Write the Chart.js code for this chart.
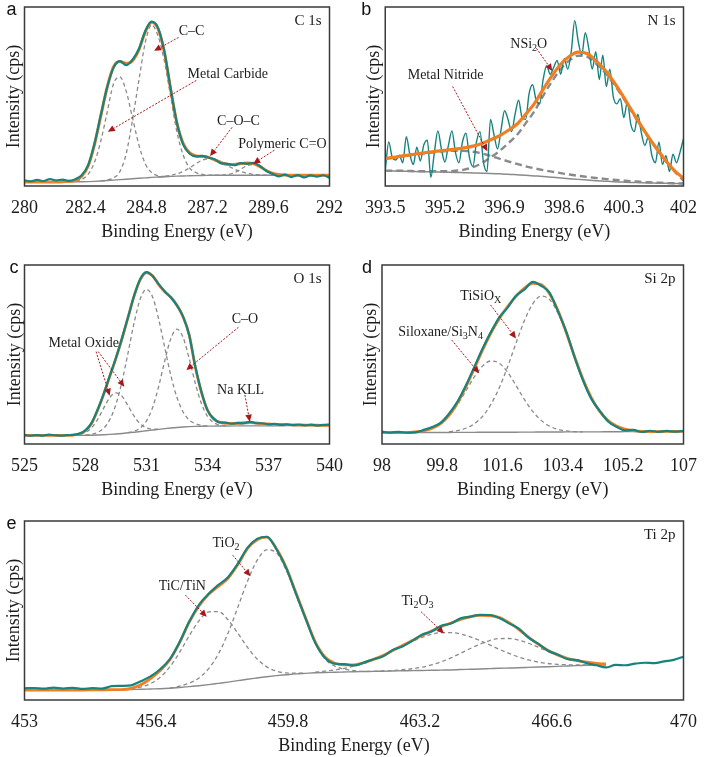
<!DOCTYPE html>
<html>
<head>
<meta charset="utf-8">
<title>XPS high-resolution spectra</title>
<script src="https://cdn.jsdelivr.net/npm/chart.js@4.4.1/dist/chart.umd.min.js"></script>
<style>
  html, body { margin: 0; padding: 0; background: #fff; }
  #fig { position: relative; width: 708px; height: 757px; overflow: hidden; }
  #fig canvas { position: absolute; }
</style>
</head>
<body>
<div id="fig">
  <canvas id="panelA" width="354" height="244" style="left:0px;top:0px"></canvas>
  <canvas id="panelB" width="354" height="244" style="left:354px;top:0px"></canvas>
  <canvas id="panelC" width="354" height="244" style="left:0px;top:258px"></canvas>
  <canvas id="panelD" width="354" height="244" style="left:354px;top:258px"></canvas>
  <canvas id="panelE" width="708" height="244" style="left:0px;top:514px"></canvas>
</div>
<script>
// ---- C 1s ----
var c1sTicks = [280, 282.4, 284.8, 287.2, 289.6, 292];
var c1sEnergy = [280,280.25,280.5,280.75,281,281.25,281.5,281.75,282,282.25,282.5,282.75,283,283.25,283.5,283.75,284,284.25,284.5,284.75,285,285.25,285.5,285.75,286,286.25,286.5,286.75,287,287.25,287.5,287.75,288,288.25,288.5,288.75,289,289.25,289.5,289.75,290,290.25,290.5,290.75,291,291.25,291.5,291.75,292];
var c1sMeasured = [3.2,2.6,3.4,2.8,3.9,3.1,3.6,2.9,3.8,6.0,11.5,23.5,39.5,55,66,69.8,67.5,70.5,76.5,86.5,91.8,88.5,75.5,54.5,35,23,18,16.5,16.8,15.8,14.8,12.6,12.4,11.6,12.8,12.4,12.9,11.3,8.5,6.9,5.4,6.3,5.0,6.1,4.8,5.9,5.2,6.0,4.6];
var c1sEnvelope = [2.3,2.3,2.3,2.3,2.3,2.3,2.4,2.6,3.0,5.5,11,23,39,55,66.5,69.5,68.5,70,76,86,91.5,88,75,54,35,23.5,18.5,16.8,16.5,16,14.5,13,12,12,12.5,12.8,12.5,11,8.8,7.2,6.4,6.1,6,6,6,6,6,6,6];
var c1sBackground = [2.3,2.3,2.3,2.3,2.3,2.3,2.3,2.3,2.3,2.35,2.45,2.6,2.8,3.05,3.3,3.55,3.8,4.05,4.3,4.55,4.8,5.0,5.2,5.35,5.5,5.6,5.7,5.8,5.9,5.95,6,6,6,6,6,6,6,6,6,6,6,6,6,6,6,6,6,6,6];
var c1sCarbide = [null,null,null,null,null,null,null,2.35,2.6,3.6,6.5,13,25,41,57,61,53,38,23,12.5,7.5,5.8,5.3,5.4,null,null,null,null,null,null,null,null,null,null,null,null,null,null,null,null,null,null,null,null,null,null,null,null,null];
var c1sCC = [null,null,null,null,null,null,null,null,null,null,null,null,2.9,3.4,4.5,8,18,37,59,80,90,84,70,50,30,17,10,7.5,6.5,6.1,6.0,null,null,null,null,null,null,null,null,null,null,null,null,null,null,null,null,null,null];
var c1sCOC = [null,null,null,null,null,null,null,null,null,null,null,null,null,null,null,null,null,null,null,null,null,5.05,5.4,5.9,6.8,8.2,10.2,12.5,14.5,15.3,14.8,13.3,11.3,9.5,8.1,7.1,6.5,6.2,6.05,6.0,null,null,null,null,null,null,null,null,null];
var c1sPolymeric = [null,null,null,null,null,null,null,null,null,null,null,null,null,null,null,null,null,null,null,null,null,null,null,null,null,null,null,null,null,null,6.0,6.1,6.4,7.4,9.3,11.3,12.0,10.8,8.7,7.1,6.3,6.05,6.0,null,null,null,null,null,null];

// ---- N 1s ----
var n1sTicks = [393.5, 395.2, 396.9, 398.6, 400.3, 402];
var n1sEnergy = [393.5,393.6,393.7,393.8,393.9,394,394.1,394.2,394.3,394.4,394.5,394.6,394.7,394.8,394.9,395,395.1,395.2,395.3,395.4,395.5,395.6,395.7,395.8,395.9,396,396.1,396.2,396.3,396.4,396.5,396.6,396.7,396.8,396.9,397,397.1,397.2,397.3,397.4,397.5,397.6,397.7,397.8,397.9,398,398.1,398.2,398.3,398.4,398.5,398.6,398.7,398.8,398.9,399,399.1,399.2,399.3,399.4,399.5,399.6,399.7,399.8,399.9,400,400.1,400.2,400.3,400.4,400.5,400.6,400.7,400.8,400.9,401,401.1,401.2,401.3,401.4,401.5,401.6,401.7,401.8,401.9,402];
var n1sMeasured = [8.5,24.6,15.9,14.5,17.2,13,27.5,17.8,12,21.7,14,23,25.6,4.8,18.8,30.8,20.7,13.4,22.7,30.8,18.8,13,24.6,29.5,15.9,11,24.6,30.4,13,8.1,37.2,28.5,20.7,31.4,42,37.2,30.4,40.1,47.9,38.2,37.2,51.7,56.6,47.9,45.9,59.5,67.2,62.4,66.3,70.2,62.4,71.1,65.3,75,92.4,80.8,73.1,85.7,76.9,65.3,75,59.5,73.1,55.6,65.3,49.8,45.9,48.8,38.2,46.9,34.3,30.4,40.1,29.5,22.7,27.5,16.9,13,24.6,12,16.9,8.1,17.8,13,18.8,26.5];
var n1sFitEnergy = [393.5,393.75,394,394.25,394.5,394.75,395,395.25,395.5,395.75,396,396.25,396.5,396.75,397,397.25,397.5,397.75,398,398.25,398.5,398.75,399,399.25,399.5,399.75,400,400.25,400.5,400.75,401,401.25,401.5,401.75,402];
var n1sEnvelope = [15.3,16.0,16.8,17.5,18.3,18.9,19.5,20.0,20.6,21.3,22.3,23.8,25.8,28.0,31.0,34.5,40,46,54,61.5,68,72.5,74.8,74,70,65,58.5,51,43,35,27.5,20.5,14,8.5,4.3];
var n1sBackground = [8.5,8.4,8.3,8.15,8.0,7.9,7.8,7.7,7.6,7.45,7.3,7.15,7.0,6.8,6.6,6.3,6.0,5.65,5.3,4.9,4.5,4.1,3.7,3.35,3.0,2.7,2.4,2.2,2.0,1.85,1.7,1.6,1.5,1.45,1.4];
var n1sNitride = [15.2,15.9,16.6,17.3,18.0,18.6,19.1,19.5,19.7,19.6,19.1,18.2,16.8,15.3,13.8,12.4,11.0,9.9,8.9,8.0,7.2,6.4,5.7,5.1,4.5,4.0,3.5,3.1,2.7,2.4,2.1,1.9,1.7,1.5,1.4];
var n1sNSi2O = [8.6,8.5,8.5,8.35,8.3,8.2,8.2,8.2,8.5,9.15,10.5,12.75,16.0,19.5,23.8,28.4,35,41.75,50.4,58.4,65.3,70.2,72.8,72.25,68.5,63.7,57.4,50.1,42.3,34.45,27.1,20.2,13.8,8.0,3.0];

// ---- O 1s ----
var o1sTicks = [525, 528, 531, 534, 537, 540];
var o1sEnergy = [525,525.3,525.6,525.9,526.2,526.5,526.8,527.1,527.4,527.7,528,528.3,528.6,528.9,529.2,529.5,529.8,530.1,530.4,530.7,531,531.3,531.6,531.9,532.2,532.5,532.8,533.1,533.4,533.7,534,534.3,534.6,534.9,535.2,535.5,535.8,536.1,536.4,536.7,537,537.3,537.6,537.9,538.2,538.5,538.8,539.1,539.4,539.7,540];
var o1sMeasured = [5.1,4.6,5.0,4.7,5.2,4.9,4.6,5.0,5.1,5.8,7.7,11.8,19.3,28.2,38.3,48.2,59.3,71.2,83.2,92.3,96.0,93.8,89.3,85.2,81.8,77.3,71.2,60.8,43.3,29.2,18.8,14.3,12.0,11.9,11.3,11.8,11.6,12.4,11.6,11.6,11.0,11.3,10.7,11.0,10.5,10.9,10.4,10.8,10.3,10.7,10.9];
var o1sEnvelope = [4.8,4.8,4.8,4.8,4.8,4.8,4.8,4.8,5.0,5.6,7.5,11.5,19,28,38,48,59,71,83,92,95.8,94,89,85,82,77.5,71,61,43,29,19,14,12.2,11.6,11.5,11.6,11.9,12.2,11.8,11.4,11.2,11.0,10.9,10.8,10.7,10.6,10.6,10.5,10.5,10.4,10.4];
var o1sBackground = [4.8,4.8,4.8,4.8,4.8,4.8,4.8,4.8,4.8,4.8,4.85,4.9,5.0,5.15,5.35,5.6,5.9,6.25,6.6,7.0,7.4,7.8,8.2,8.6,8.95,9.25,9.5,9.7,9.85,9.95,10.0,10.0,10.05,10.05,10.1,10.1,10.1,10.15,10.15,10.15,10.2,10.2,10.2,10.25,10.25,10.25,10.3,10.3,10.3,10.3,10.3];
var o1sOxide = [null,null,null,null,null,null,null,null,4.9,5.3,6.45,9.1,13.8,20.15,26.05,28.6,26.6,21.25,15.4,11.2,9.0,8.3,8.25,null,null,null,null,null,null,null,null,null,null,null,null,null,null,null,null,null,null,null,null,null,null,null,null,null,null,null,null];
var o1sMain = [null,null,null,null,null,null,null,null,null,null,4.9,5.4,6.5,8.85,13.75,22.3,35.1,51.35,68.1,81.3,86.4,82.1,69.7,53.7,38.15,25.95,17.9,13.4,11.35,10.45,10.05,null,null,null,null,null,null,null,null,null,null,null,null,null,null,null,null,null,null,null,null];
var o1sCO = [null,null,null,null,null,null,null,null,null,null,null,null,null,null,null,null,null,6.3,7.2,9.0,12.9,20.4,32.2,46.6,59,64.15,59.5,47.7,33.9,22.6,15.5,12.0,10.6,10.15,null,null,null,null,null,null,null,null,null,null,null,null,null,null,null,null,null];
var o1sNaKLL = [null,null,null,null,null,null,null,null,null,null,null,null,null,null,null,null,null,null,null,null,null,null,null,null,null,null,null,null,null,null,null,null,null,10.1,10.2,10.6,11.2,11.5,11.2,10.7,10.3,10.2,null,null,null,null,null,null,null,null,null];

// ---- Si 2p ----
var si2pTicks = [98, 99.8, 101.6, 103.4, 105.2, 107];
var si2pEnergy = [98,98.25,98.5,98.75,99,99.25,99.5,99.75,100,100.25,100.5,100.75,101,101.25,101.5,101.75,102,102.25,102.5,102.75,103,103.25,103.5,103.75,104,104.25,104.5,104.75,105,105.25,105.5,105.75,106,106.25,106.5,106.75,107];
var si2pMeasured = [6.9,6.4,6.8,6.3,6.5,7.9,9.5,11.8,16.9,23.5,32.5,42.8,53.2,62.5,70.8,76.2,82.8,86.2,90.6,88.4,84.6,74.2,62.8,48.4,35.6,25.2,18.5,12.6,9.6,7.6,7.9,6.7,7.4,6.8,7.3,6.9,7.4];
var si2pEnvelope = [6.3,6.3,6.35,6.4,6.8,7.4,8.8,11.4,16.0,22.9,31.8,42,52.4,62,70,76.8,82.5,87.1,89.7,89.1,84,74.7,62.3,48.8,36.1,25.8,18.2,13.1,10.0,8.3,7.5,7.1,6.95,6.95,7.0,7.0,7.0];
var si2pBackground = [6.3,6.3,6.35,6.35,6.4,6.4,6.4,6.45,6.45,6.5,6.5,6.5,6.55,6.55,6.6,6.6,6.6,6.65,6.65,6.7,6.7,6.7,6.75,6.75,6.8,6.8,6.8,6.85,6.85,6.9,6.9,6.9,6.95,6.95,7.0,7.0,7.0];
var si2pSiloxane = [null,null,null,6.4,6.8,7.4,8.8,11.4,15.6,21.9,29.5,37.3,43.5,46.4,45.1,40.1,32.7,24.9,18.2,13.2,10.0,8.2,7.3,6.9,6.8,null,null,null,null,null,null,null,null,null,null,null,null];
var si2pTiSiOx = [null,null,null,null,null,null,null,null,6.85,7.5,8.8,11.2,15.4,22.1,31.4,43.2,56.3,68.9,78.3,82.6,80.7,73.2,61.7,48.6,36.1,25.8,18.2,13.1,10.0,8.3,7.5,7.1,6.95,null,null,null,null];

// ---- Ti 2p ----
var ti2pTicks = [453, 456.4, 459.8, 463.2, 466.6, 470];
var ti2pEnergy = [453,453.25,453.5,453.75,454,454.25,454.5,454.75,455,455.25,455.5,455.75,456,456.25,456.5,456.75,457,457.25,457.5,457.75,458,458.25,458.5,458.75,459,459.25,459.5,459.75,460,460.25,460.5,460.75,461,461.25,461.5,461.75,462,462.25,462.5,462.75,463,463.25,463.5,463.75,464,464.25,464.5,464.75,465,465.25,465.5,465.75,466,466.25,466.5,466.75,467,467.25,467.5,467.75,468,468.25,468.5,468.75,469,469.25,469.5,469.75,470];
var ti2pMeasured = [6.5,6.7,6.3,6.9,6.4,6.8,6.2,6.6,6.4,7.7,7.9,8.2,10.5,13.2,17.2,22.8,32.3,43.8,53.2,59.3,64.3,68.6,76,85,90,91.2,84.2,73.8,59.6,45.6,32.0,23.6,20.3,20.0,19.3,20.9,22.8,24.4,28.0,29.9,33.0,36.5,38.2,41.5,42.7,45.6,46.6,47.6,47.5,45.8,42.8,39.9,34.8,31.5,27.5,25.4,22.9,22.3,20.6,19.4,18.2,19.6,19.4,20.3,20.8,20.6,21.6,22.4,24.2];
var ti2pEnvelope = [5.6,5.6,5.6,5.6,5.6,5.6,5.6,5.65,5.7,5.75,5.8,6.5,8.5,12.0,16.5,22.5,32,43.5,52.5,59,63.5,68,75.5,84.5,89.5,91,84.5,74,60,46,32.5,24,20.5,19.6,19.6,20.8,22.6,24.8,27.6,30.4,33.2,36.0,38.6,41.0,43.0,45.0,46.5,47.3,47.2,46.0,43.2,39.5,35.2,31.2,27.8,25.2,23.3,22.0,21.1,20.5,20.1,null,null,null,null,null,null,null,null];
var ti2pBackground = [5.6,5.6,5.6,5.6,5.6,5.6,5.6,5.65,5.7,5.75,5.8,5.9,6.0,6.15,6.3,6.6,7.0,7.5,8.0,8.6,9.3,10.0,10.8,11.6,12.3,13.0,13.6,14.1,14.6,14.9,15.2,15.4,15.5,15.65,15.8,15.9,16.0,16.1,16.2,16.3,16.4,16.5,16.6,16.7,16.8,17.0,17.15,17.3,17.5,17.7,17.85,18.0,18.2,18.4,18.6,18.8,19.0,19.2,19.4,19.5,19.6,null,null,null,null,null,null,null,null];
var ti2pTiC = [null,null,null,null,null,null,null,null,null,null,null,6.35,7.25,9.15,12.7,18.5,26.6,35.9,44.2,49.2,49.4,44.8,37.4,29.5,22.9,18.5,16.1,15.1,15.0,14.9,null,null,null,null,null,null,null,null,null,null,null,null,null,null,null,null,null,null,null,null,null,null,null,null,null,null,null,null,null,null,null,null,null,null,null,null,null,null,null];
var ti2pTiO2 = [null,null,null,null,null,null,null,null,null,null,null,null,null,null,null,6.6,7.7,9.4,12.3,17.5,25.7,37.3,51.6,66.2,78.0,83.9,82.2,72.5,59,45,32,23.0,19.0,17.2,16.4,16.0,16.0,null,null,null,null,null,null,null,null,null,null,null,null,null,null,null,null,null,null,null,null,null,null,null,null,null,null,null,null,null,null,null,null];
var ti2pTi2O3 = [null,null,null,null,null,null,null,null,null,null,null,null,null,null,null,null,null,null,null,null,null,null,null,null,null,null,null,null,null,null,15.5,16.15,16.75,17.65,18.9,20.4,22.4,24.7,27.4,30.1,32.7,35.0,36.7,37.6,37.6,36.9,35.25,33.2,30.8,28.3,26.05,24.0,22.4,21.2,20.4,19.9,19.7,19.6,19.6,19.6,19.65,null,null,null,null,null,null,null,null];
var ti2pSecond = [null,null,null,null,null,null,null,null,null,null,null,null,null,null,null,null,null,null,null,null,null,null,null,null,null,null,null,null,null,null,null,null,null,null,null,null,16.0,16.2,16.5,16.9,17.45,18.35,19.6,21.3,23.5,26.1,28.75,31.2,33.2,34.3,34.35,33.4,31.7,29.5,27.2,25.1,23.3,21.9,21.05,20.4,20.1,null,null,null,null,null,null,null,null];

// ---- drawing ----
var SERIF = '"Liberation Serif", "Times New Roman", serif';
var SANS = '"Liberation Sans", Arial, sans-serif';
var TEAL = '#16837f', ORANGE = '#f07e22', GREY = '#8a8a8a', RED = '#a8171b', INK = '#1c1c1c';

function pts(xs, ys) {
  return xs.map(function (x, i) { return { x: x, y: ys[i] }; });
}
function line(xs, ys, color, width, dash) {
  return { data: pts(xs, ys), borderColor: color, borderWidth: width, borderDash: dash || [],
    pointRadius: 0, fill: false, cubicInterpolationMode: 'monotone' };
}

// text with "_x" meaning subscript x
function richText(ctx, str, cx, cy, size) {
  var parts = [];
  for (var i = 0; i < str.length; i++) {
    if (str[i] === '_') { parts.push({ t: str[i + 1], sub: true }); i++; }
    else if (parts.length && !parts[parts.length - 1].sub) parts[parts.length - 1].t += str[i];
    else parts.push({ t: str[i], sub: false });
  }
  var w = 0;
  parts.forEach(function (p) {
    ctx.font = (p.sub ? size * 0.72 : size) + 'px ' + SERIF;
    p.w = ctx.measureText(p.t).width; w += p.w;
  });
  var x = cx - w / 2;
  ctx.textAlign = 'left'; ctx.textBaseline = 'alphabetic'; ctx.fillStyle = INK;
  parts.forEach(function (p) {
    ctx.font = (p.sub ? size * 0.72 : size) + 'px ' + SERIF;
    ctx.fillText(p.t, x, cy + size * 0.33 + (p.sub ? size * 0.22 : 0));
    x += p.w;
  });
  return w;
}

function arrow(ctx, x1, y1, x2, y2) {
  var ang = Math.atan2(y2 - y1, x2 - x1), L = 7, h = 3.3;
  var bx = x2 - L * Math.cos(ang), by = y2 - L * Math.sin(ang);
  ctx.save();
  ctx.strokeStyle = RED; ctx.fillStyle = RED; ctx.lineWidth = 1;
  ctx.setLineDash([2, 1.5]);
  ctx.beginPath(); ctx.moveTo(x1, y1); ctx.lineTo(bx, by); ctx.stroke();
  ctx.setLineDash([]);
  ctx.beginPath(); ctx.moveTo(x2, y2);
  ctx.lineTo(bx + h * Math.sin(ang), by - h * Math.cos(ang));
  ctx.lineTo(bx - h * Math.sin(ang), by + h * Math.cos(ang));
  ctx.closePath(); ctx.fill();
  ctx.restore();
}

var specs = {};

var panelDecor = {
  id: 'panelDecor',
  afterDatasetsDraw: function (chart) {
    var spec = specs[chart.canvas.id];
    var ctx = chart.ctx, a = chart.chartArea, sx = chart.scales.x, sy = chart.scales.y;
    ctx.save();
    ctx.strokeStyle = '#3a3a3a'; ctx.lineWidth = 1.5;
    ctx.strokeRect(a.left, a.top, a.right - a.left, a.bottom - a.top);

    // core level label, top right
    ctx.font = '15px ' + SERIF;
    var cw = ctx.measureText(spec.core).width;
    richText(ctx, spec.core, a.right - 8 - cw / 2, a.top + 13, 15);

    spec.notes.forEach(function (n) {
      richText(ctx, n.t, sx.getPixelForValue(n.x), sy.getPixelForValue(n.y), 14);
      n.arrows.forEach(function (r) {
        arrow(ctx, sx.getPixelForValue(r[0]), sy.getPixelForValue(r[1]),
                   sx.getPixelForValue(r[2]), sy.getPixelForValue(r[3]));
      });
    });

    ctx.font = '18px ' + SANS; ctx.fillStyle = '#111';
    ctx.textAlign = 'left'; ctx.textBaseline = 'alphabetic';
    ctx.fillText(spec.letter, a.left + spec.letterDx, a.top + 8);
    ctx.restore();
  }
};

function makePanel(spec) {
  specs[spec.id] = spec;
  new Chart(document.getElementById(spec.id), {
    type: 'line',
    data: { datasets: spec.datasets },
    options: {
      responsive: false, animation: false, devicePixelRatio: 1, events: [],
      layout: { padding: { top: 7, left: 0, right: spec.padRight, bottom: 0 } },
      plugins: { legend: { display: false }, tooltip: { enabled: false } },
      scales: {
        x: {
          type: 'linear', min: spec.ticks[0], max: spec.ticks[spec.ticks.length - 1],
          afterBuildTicks: function (s) { s.ticks = spec.ticks.map(function (v) { return { value: v }; }); },
          afterFit: function (s) { s.height = 58; },
          grid: { display: false, drawTicks: false }, border: { display: false },
          ticks: { padding: 11, color: INK, font: { family: SERIF, size: 18 }, maxRotation: 0, autoSkip: false,
            callback: function (v) { return String(v); } },
          title: { display: true, text: 'Binding Energy (eV)', color: INK, font: { family: SERIF, size: 18 },
            padding: { top: 0, bottom: 0.5 } }
        },
        y: {
          min: 0, max: 100,
          afterFit: function (s) { s.width = spec.yWidth; },
          grid: { display: false, drawTicks: false }, border: { display: false }, ticks: { display: false },
          title: { display: true, text: 'Intensity (cps)', color: INK, font: { family: SERIF, size: 18 },
            padding: { top: spec.yTitlePad, bottom: 0 } }
        }
      }
    },
    plugins: [panelDecor]
  });
}

var DASH = [4, 3];

makePanel({
  id: 'panelA', letter: 'a', letterDx: -18, core: 'C 1s', ticks: c1sTicks,
  yWidth: 21, padRight: 21, yTitlePad: 0,
  datasets: [
    line(c1sEnergy, c1sMeasured, TEAL, 2.2),
    line(c1sEnergy, c1sEnvelope, ORANGE, 3),
    line(c1sEnergy, c1sCarbide, GREY, 1.3, DASH),
    line(c1sEnergy, c1sCC, GREY, 1.3, DASH),
    line(c1sEnergy, c1sCOC, GREY, 1.3, DASH),
    line(c1sEnergy, c1sPolymeric, GREY, 1.3, DASH),
    line(c1sEnergy, c1sBackground, GREY, 1.4)
  ],
  notes: [
    { t: 'C–C', x: 286.57, y: 86.7, arrows: [[286.06, 83.0, 285.10, 75.5]] },
    { t: 'Metal Carbide', x: 288.0, y: 63.1, arrows: [[286.76, 59, 283.28, 30.3]] },
    { t: 'C–O–C', x: 288.42, y: 36.9, arrows: [[288.17, 32.8, 287.3, 16.7]] },
    { t: 'Polymeric C=O', x: 290.15, y: 23.8, arrows: [[289.83, 20.0, 289.0, 12.5]] }
  ]
});

makePanel({
  id: 'panelB', letter: 'b', letterDx: -24, core: 'N 1s', ticks: n1sTicks,
  yWidth: 26, padRight: 15, yTitlePad: 4,
  datasets: [
    line(n1sFitEnergy, n1sEnvelope, ORANGE, 3.2),
    line(n1sEnergy, n1sMeasured, TEAL, 1.4),
    line(n1sFitEnergy, n1sNitride, GREY, 2.4, [7, 4]),
    line(n1sFitEnergy, n1sNSi2O, GREY, 2.4, [7, 4]),
    line(n1sFitEnergy, n1sBackground, GREY, 1.5)
  ],
  notes: [
    { t: 'NSi_2O', x: 397.59, y: 79.8, arrows: [[397.81, 76.9, 398.26, 64.3]] },
    { t: 'Metal Nitride', x: 395.22, y: 62.4, arrows: [[395.42, 55.6, 396.41, 19.4]] }
  ]
});

makePanel({
  id: 'panelC', letter: 'c', letterDx: -15, core: 'O 1s', ticks: o1sTicks,
  yWidth: 20, padRight: 22, yTitlePad: 0,
  datasets: [
    line(o1sEnergy, o1sMeasured, TEAL, 2.2),
    line(o1sEnergy, o1sEnvelope, ORANGE, 2.8),
    line(o1sEnergy, o1sOxide, GREY, 1.3, DASH),
    line(o1sEnergy, o1sMain, GREY, 1.3, DASH),
    line(o1sEnergy, o1sCO, GREY, 1.3, DASH),
    line(o1sEnergy, o1sNaKLL, '#9fb6cc', 1.3),
    line(o1sEnergy, o1sBackground, GREY, 1.4)
  ],
  notes: [
    { t: 'Metal Oxide', x: 527.91, y: 56.6, arrows: [[528.52, 51.6, 529.19, 27], [528.63, 51.6, 529.91, 32]] },
    { t: 'C–O', x: 535.84, y: 70.2, arrows: [[535.52, 65.2, 532.96, 41.3]] },
    { t: 'Na KLL', x: 535.63, y: 30.5, arrows: [[535.84, 27.4, 536.08, 12.5]] }
  ]
});

makePanel({
  id: 'panelD', letter: 'd', letterDx: -20, core: 'Si 2p', ticks: si2pTicks,
  yWidth: 28, padRight: 14, yTitlePad: 6,
  datasets: [
    line(si2pEnergy, si2pMeasured, TEAL, 2.2),
    line(si2pEnergy, si2pEnvelope, ORANGE, 2.8),
    line(si2pEnergy, si2pSiloxane, GREY, 1.3, DASH),
    line(si2pEnergy, si2pTiSiOx, GREY, 1.3, DASH),
    line(si2pEnergy, si2pBackground, GREY, 1.4)
  ],
  notes: [
    { t: 'TiSiO_X', x: 100.95, y: 83.2, arrows: [[101.24, 77.7, 102.0, 59]] },
    { t: 'Siloxane/Si_3N_4', x: 99.75, y: 62.8, arrows: [[100.08, 58.1, 100.9, 39.5]] }
  ]
});

makePanel({
  id: 'panelE', letter: 'e', letterDx: -18, core: 'Ti 2p', ticks: ti2pTicks,
  yWidth: 21, padRight: 14, yTitlePad: 0,
  datasets: [
    line(ti2pEnergy, ti2pMeasured, TEAL, 2.2),
    line(ti2pEnergy, ti2pEnvelope, ORANGE, 2.8),
    line(ti2pEnergy, ti2pTiC, GREY, 1.3, DASH),
    line(ti2pEnergy, ti2pTiO2, GREY, 1.3, DASH),
    line(ti2pEnergy, ti2pTi2O3, GREY, 1.3, DASH),
    line(ti2pEnergy, ti2pSecond, GREY, 1.3, DASH),
    line(ti2pEnergy, ti2pBackground, GREY, 1.4)
  ],
  notes: [
    { t: 'TiO_2', x: 458.2, y: 88.3, arrows: [[458.37, 80.9, 458.83, 69.1]] },
    { t: 'TiC/TiN', x: 457.07, y: 64.1, arrows: [[457.15, 58.6, 457.7, 46.5]] },
    { t: 'Ti_2O_3', x: 463.14, y: 55.8, arrows: [[463.23, 49.3, 463.82, 37.2]] }
  ]
});
</script>
</body>
</html>
